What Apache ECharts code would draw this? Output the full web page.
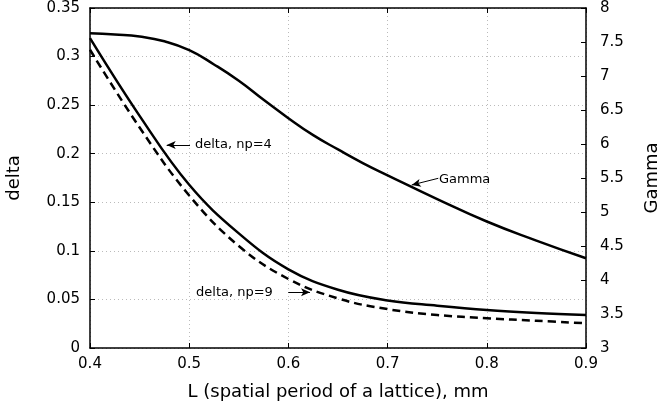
<!DOCTYPE html>
<html>
<head>
<meta charset="utf-8">
<script src="https://cdn.jsdelivr.net/npm/echarts@6/dist/echarts.min.js"></script>
<style>
  html, body { margin: 0; padding: 0; background: #fff; }
  #chart { width: 661px; height: 406px; }
</style>
</head>
<body>
<div id="chart"></div>
<script>
// values
var periods = [0.4, 0.45, 0.5, 0.55, 0.6, 0.65, 0.7, 0.75, 0.8, 0.85, 0.9];
var deltaNp4 = [0.319, 0.239, 0.168, 0.118, 0.081, 0.060, 0.049, 0.0435, 0.039, 0.036, 0.034];
var deltaNp9 = [0.307, 0.227, 0.157, 0.105, 0.071, 0.051, 0.040, 0.034, 0.0306, 0.028, 0.0255];
var gammaPeriods = [0.4, 0.425, 0.45, 0.475, 0.5, 0.525, 0.55, 0.575, 0.6, 0.625, 0.65, 0.675, 0.7, 0.75, 0.8, 0.85, 0.9];
var gamma = [7.63, 7.61, 7.58, 7.51, 7.38, 7.17, 6.93, 6.65, 6.38, 6.13, 5.92, 5.72, 5.54, 5.19, 4.86, 4.58, 4.32];

// annotation texts and arrows, in (L, delta) coordinates
var notes = [
  { text: 'delta, np=4', at: [0.5058, 0.209], from: [0.5008, 0.209], to: [0.4773, 0.209] },
  { text: 'delta, np=9', at: [0.5069, 0.0566], from: [0.5999, 0.0573], to: [0.6218, 0.0573] },
  { text: 'Gamma', at: [0.7518, 0.1729], from: [0.7511, 0.1747], to: [0.7243, 0.1678] }
];

function pairs(xs, ys) {
  return xs.map(function (x, i) { return [x, ys[i]]; });
}

var font = 'DejaVu Sans';
var chart = echarts.init(document.getElementById('chart'));

var option = {
  animation: false,
  textStyle: { fontFamily: font },
  grid: { left: 90, right: 75, top: 8, bottom: 58, outerBoundsMode: 'none' },
  xAxis: [
    {
      type: 'value', min: 0.4, max: 0.9, interval: 0.1, position: 'bottom',
      name: 'L (spatial period of a lattice), mm',
      nameLocation: 'middle', nameGap: 35,
      nameTextStyle: { fontSize: 18, color: '#000', fontFamily: font },
      axisLine: { lineStyle: { color: '#000', width: 1.5 } },
      axisTick: { inside: true, length: 5, lineStyle: { color: '#000' } },
      axisLabel: { fontSize: 15, color: '#000', margin: 9, fontFamily: font },
      splitLine: { show: true, lineStyle: { color: '#bbb', type: [1, 3], width: 1 } }
    },
    {
      type: 'value', min: 0.4, max: 0.9, interval: 0.1, position: 'top',
      axisLine: { show: true, lineStyle: { color: '#000', width: 1.5 } },
      axisTick: { show: true, inside: true, length: 5, lineStyle: { color: '#000' } },
      axisLabel: { show: false },
      splitLine: { show: false }
    }
  ],
  yAxis: [
    {
      type: 'value', min: 0, max: 0.35, interval: 0.05, position: 'left',
      name: 'delta', nameLocation: 'middle', nameGap: 67,
      nameTextStyle: { fontSize: 18, color: '#000', fontFamily: font },
      axisLine: { show: true, lineStyle: { color: '#000', width: 1.5 } },
      axisTick: { show: true, inside: true, length: 5, lineStyle: { color: '#000' } },
      axisLabel: { fontSize: 15, color: '#000', margin: 10, fontFamily: font },
      splitLine: { show: true, lineStyle: { color: '#bbb', type: [1, 3], width: 1 } }
    },
    {
      type: 'value', min: 3, max: 8, interval: 0.5, position: 'right',
      name: 'Gamma', nameLocation: 'middle', nameGap: 57,
      nameTextStyle: { fontSize: 18, color: '#000', fontFamily: font },
      axisLine: { show: true, lineStyle: { color: '#000', width: 1.5 } },
      axisTick: { show: true, inside: true, length: 5, lineStyle: { color: '#000' } },
      axisLabel: { fontSize: 15, color: '#000', margin: 14, fontFamily: font },
      splitLine: { show: false }
    }
  ],
  series: [
    {
      name: 'delta, np=4', type: 'line', xAxisIndex: 0, yAxisIndex: 0,
      data: pairs(periods, deltaNp4), smooth: 0.4, showSymbol: false,
      lineStyle: { color: '#000', width: 2.5 },
      markLine: {
        silent: true, symbol: ['none', 'arrow'], symbolSize: [6, 9],
        label: { show: false },
        lineStyle: { color: '#000', width: 1, type: 'solid' },
        data: notes.map(function (n) {
          return [{ coord: n.from }, { coord: n.to }];
        })
      }
    },
    {
      name: 'delta, np=9', type: 'line', xAxisIndex: 0, yAxisIndex: 0,
      data: pairs(periods, deltaNp9), smooth: 0.4, showSymbol: false,
      lineStyle: { color: '#000', width: 2.5, type: [8, 5] }
    },
    {
      name: 'Gamma', type: 'line', xAxisIndex: 0, yAxisIndex: 1,
      data: pairs(gammaPeriods, gamma), smooth: 0.5, showSymbol: false,
      lineStyle: { color: '#000', width: 2.5 }
    }
  ]
};
chart.setOption(option);

// text of the annotations, placed through the axes
chart.setOption({
  graphic: notes.map(function (n) {
    var p = chart.convertToPixel({ xAxisIndex: 0, yAxisIndex: 0 }, n.at);
    return {
      type: 'text', x: p[0], y: p[1], silent: true,
      style: {
        text: n.text, fill: '#000', font: '13px "DejaVu Sans"',
        textAlign: 'left', textVerticalAlign: 'middle'
      }
    };
  })
});
</script>
</body>
</html>
